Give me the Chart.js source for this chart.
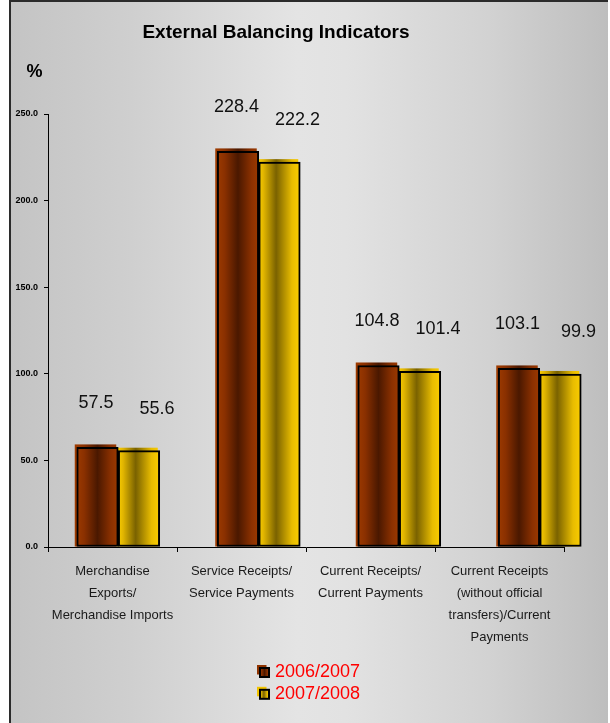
<!DOCTYPE html>
<html>
<head>
<meta charset="utf-8">
<script src="https://cdn.jsdelivr.net/npm/chart.js@4"></script>
<style>
html,body{margin:0;padding:0;background:#fff;}
#wrap{position:relative;width:610px;height:723px;overflow:hidden;}
#frame{position:absolute;left:9px;top:0;width:597px;height:723px;border-left:2px solid #2b2b2b;border-top:2px solid #2b2b2b;
  background:linear-gradient(90deg,#c4c4c4 0%,#cfcfcf 20%,#e4e4e4 48%,#e2e2e2 56%,#d2d2d2 80%,#bebebe 100%);}
canvas{position:absolute;left:0;top:0;}
</style>
</head>
<body>
<div id="wrap"><div id="frame"></div><canvas id="c" width="610" height="723"></canvas></div>
<script>
// ---- data ----
const chartTitle = "External Balancing Indicators";
const unitLabel = "%";
const categories = [
  ["Merchandise", "Exports/", "Merchandise Imports"],
  ["Service Receipts/", "Service Payments"],
  ["Current Receipts/", "Current Payments"],
  ["Current Receipts", "(without official", "transfers)/Current", "Payments"]
];
const seriesNames = ["2006/2007", "2007/2008"];
const values0607 = [57.5, 228.4, 104.8, 103.1];
const values0708 = [55.6, 222.2, 101.4, 99.9];
const yMin = 0, yMax = 250, yStep = 50;

// ---- styles ----
const FONT = "'Liberation Sans', Arial, Helvetica, sans-serif";
const fills = [
  [[0, '#9c3a00'], [0.18, '#8a3000'], [0.5, '#4a1800'], [0.82, '#8a3000'], [1, '#9c3a00']],
  [[0, '#f9cc00'], [0.12, '#e0b400'], [0.42, '#7a6200'], [0.8, '#e8bc00'], [1, '#fbce00']]
];
const solid = ['#8f3300', '#f2c400'];
const labelShift = [{dx: -1.5, dy: -44}, {dx: 18, dy: -42}];

function grad(ctx, l, w, stops) {
  const g = ctx.createLinearGradient(l, 0, l + w, 0);
  stops.forEach(s => g.addColorStop(s[0], s[1]));
  return g;
}

const barLook = {
  id: 'barLook',
  beforeDatasetDraw(chart, args) {
    const ctx = chart.ctx;
    const stops = fills[args.index];
    args.meta.data.forEach(bar => {
      const p = bar.getProps(['x', 'y', 'base', 'width'], true);
      const l = p.x - p.width / 2;
      const g = grad(ctx, l, p.width, stops);
      bar.options = Object.assign({}, bar.options, {backgroundColor: g});
      ctx.save();
      ctx.fillStyle = g;
      ctx.fillRect(l - 2, p.y - 3, p.width, p.base - p.y + 3);
      ctx.restore();
    });
  },
  afterDatasetsDraw(chart) {
    const ctx = chart.ctx;
    ctx.save();
    ctx.font = '18px ' + FONT;
    ctx.fillStyle = '#111';
    ctx.textAlign = 'center';
    ctx.textBaseline = 'middle';
    chart.data.datasets.forEach((ds, di) => {
      const meta = chart.getDatasetMeta(di);
      meta.data.forEach((bar, i) => {
        const p = bar.getProps(['x', 'y'], true);
        ctx.fillText(ds.data[i].y.toFixed(1), p.x + labelShift[di].dx, p.y + labelShift[di].dy);
      });
    });
    ctx.restore();
  }
};

const decor = {
  id: 'decor',
  afterDraw(chart) {
    const ctx = chart.ctx;
    ctx.save();
    ctx.fillStyle = '#000';
    ctx.textBaseline = 'middle';
    ctx.textAlign = 'center';
    ctx.font = 'bold 19px ' + FONT;
    ctx.fillText(chartTitle, 276, 33);
    ctx.font = 'bold 18px ' + FONT;
    ctx.fillText(unitLabel, 34.5, 72);
    ctx.textAlign = 'left';
    ctx.font = '18px ' + FONT;
    seriesNames.forEach((name, i) => {
      const y = 671.5 + i * 21.8;
      ctx.fillStyle = solid[i];
      ctx.fillRect(257, y - 6.5, 9.5, 9.5);
      ctx.fillStyle = grad(ctx, 260, 9, fills[i]);
      ctx.fillRect(260, y - 3.5, 9, 9);
      ctx.strokeStyle = '#000';
      ctx.lineWidth = 2;
      ctx.strokeRect(260, y - 3.5, 9, 9);
      ctx.fillStyle = '#ff0000';
      ctx.fillText(name, 275, y + 0.5);
    });
    ctx.restore();
  }
};

const toPoints = arr => arr.map((v, i) => ({x: i, y: v}));

new Chart(document.getElementById('c'), {
  type: 'bar',
  data: {
    labels: categories,
    datasets: [
      {label: seriesNames[0], data: toPoints(values0607), xAxisID: 'x2', yAxisID: 'y', clip: false,
       backgroundColor: solid[0], borderColor: '#000', borderWidth: 2, borderSkipped: false, barThickness: 41.5},
      {label: seriesNames[1], data: toPoints(values0708), xAxisID: 'x2', yAxisID: 'y', clip: false,
       backgroundColor: solid[1], borderColor: '#000', borderWidth: 2, borderSkipped: false, barThickness: 41.5}
    ]
  },
  options: {
    responsive: false,
    devicePixelRatio: 1,
    animation: false,
    events: [],
    layout: {padding: {top: 114, right: 46, bottom: 0, left: 0}},
    plugins: {legend: {display: false}, tooltip: {enabled: false}, title: {display: false}},
    scales: {
      x: {
        type: 'category', position: 'bottom', offset: true,
        grid: {display: true, drawOnChartArea: false, drawTicks: true, tickLength: 5, color: '#000', offset: true},
        border: {display: true, color: '#000', width: 1},
        ticks: {font: {family: FONT, size: 13, lineHeight: 1.67}, color: '#1a1a1a', padding: 9,
                maxRotation: 0, minRotation: 0, autoSkip: false},
        afterFit(s) { s.height = 176; }
      },
      x2: {
        type: 'linear', position: 'bottom', display: false, offset: false,
        min: -0.5, max: 3.1726, grid: {display: false}
      },
      y: {
        type: 'linear', position: 'left', min: yMin, max: yMax,
        ticks: {stepSize: yStep, callback: v => Number(v).toFixed(1),
                font: {family: FONT, size: 9, weight: 'bold'}, color: '#000', padding: 6},
        grid: {drawOnChartArea: false, drawTicks: true, tickLength: 4, color: '#000'},
        border: {display: true, color: '#000', width: 1},
        afterFit(s) { s.width = 48; }
      }
    }
  },
  plugins: [barLook, decor]
});
</script>
</body>
</html>
